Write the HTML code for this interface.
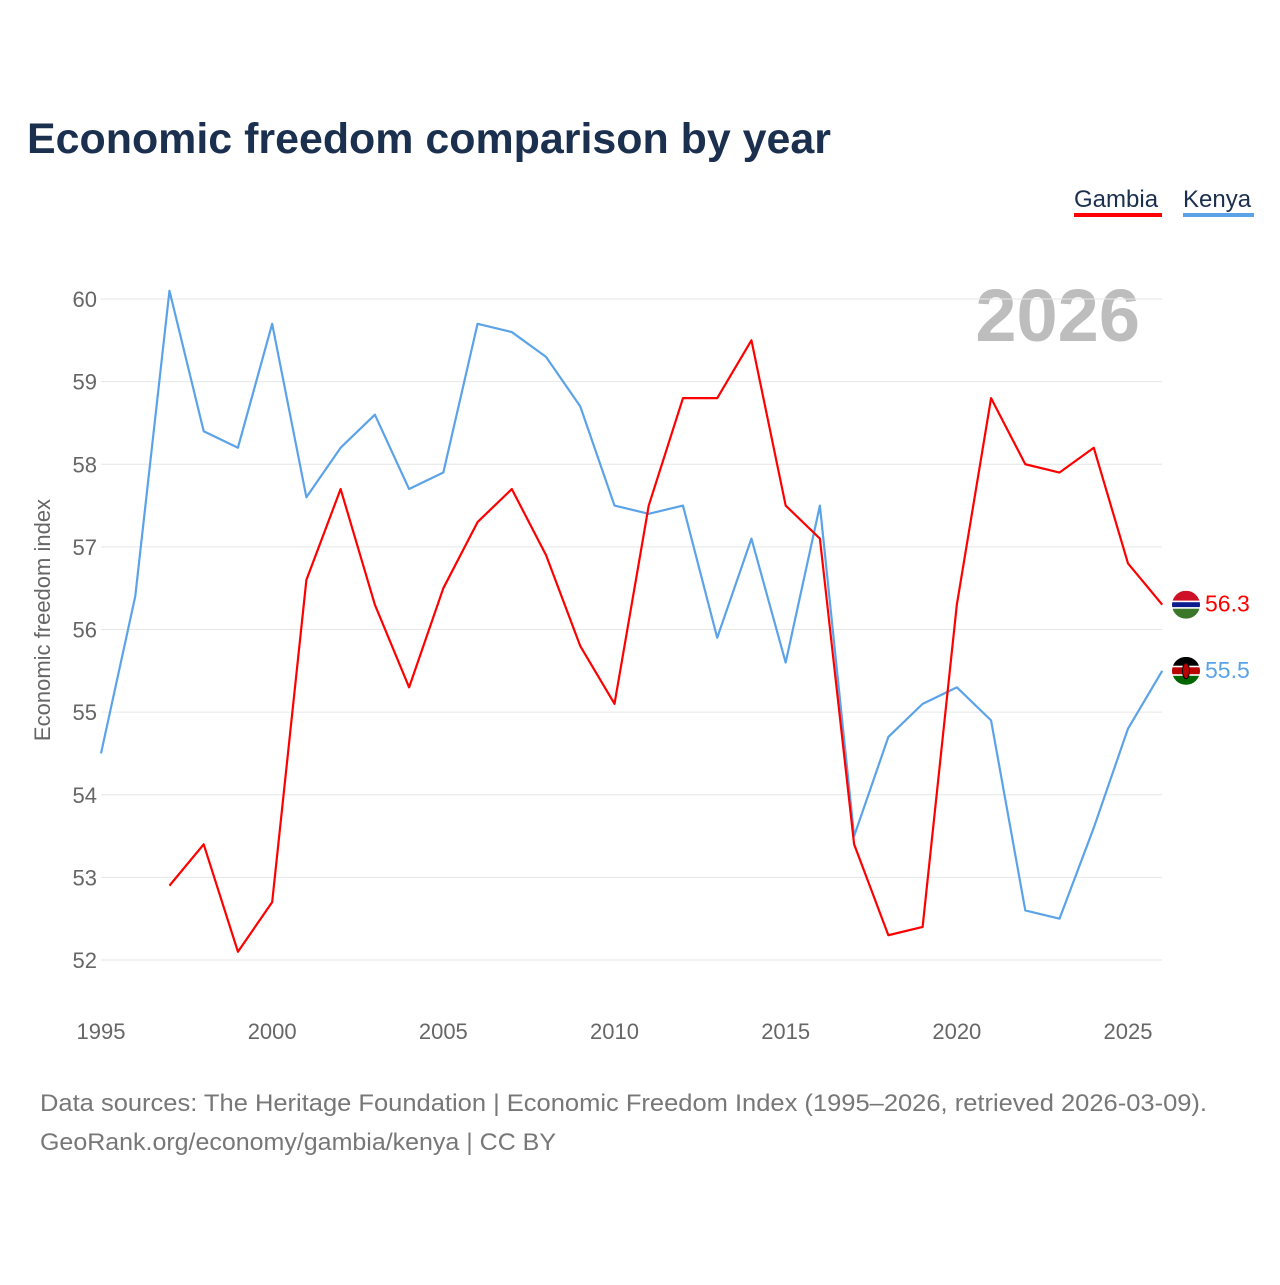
<!DOCTYPE html>
<html><head><meta charset="utf-8">
<style>
body{margin:0;background:#fff;font-family:"Liberation Sans",sans-serif;}
svg text{font-family:"Liberation Sans",sans-serif;}
</style></head>
<body>
<svg id="chart" width="1280" height="1280" viewBox="0 0 1280 1280" xmlns="http://www.w3.org/2000/svg">
<rect width="1280" height="1280" fill="#fff"/>
<text x="27" y="153" font-size="43" font-weight="bold" fill="#1b2f4e" textLength="804" lengthAdjust="spacingAndGlyphs">Economic freedom comparison by year</text>
<g>
<text x="1074" y="207" font-size="24" fill="#1b2f4e">Gambia</text>
<rect x="1074" y="213" width="88" height="4" fill="#ff0000"/>
</g>
<g>
<text x="1183" y="207" font-size="24" fill="#1b2f4e">Kenya</text>
<rect x="1183" y="213" width="71" height="4" fill="#5ba3e8"/>
</g>
<text x="1140" y="341" font-size="74" font-weight="bold" fill="#bdbdbd" text-anchor="end">2026</text>
<text transform="translate(50,620) rotate(-90)" font-size="22" fill="#666" text-anchor="middle">Economic freedom index</text>
<g id="grid"></g><g id="yticks"></g><g id="xticks"></g><g id="lines"></g><g id="ends"></g>
<text x="40" y="1111" font-size="24" fill="#777" textLength="1167" lengthAdjust="spacingAndGlyphs">Data sources: The Heritage Foundation | Economic Freedom Index (1995–2026, retrieved 2026-03-09).</text>
<text x="40" y="1150" font-size="24" fill="#777" textLength="516" lengthAdjust="spacingAndGlyphs">GeoRank.org/economy/gambia/kenya | CC BY</text>
</svg>
<script>
const years=[1995,1996,1997,1998,1999,2000,2001,2002,2003,2004,2005,2006,2007,2008,2009,2010,2011,2012,2013,2014,2015,2016,2017,2018,2019,2020,2021,2022,2023,2024,2025,2026];
const kenya=[54.5,56.4,60.1,58.4,58.2,59.7,57.6,58.2,58.6,57.7,57.9,59.7,59.6,59.3,58.7,57.5,57.4,57.5,55.9,57.1,55.6,57.5,53.5,54.7,55.1,55.3,54.9,52.6,52.5,53.6,54.8,55.5];
const gambia=[null,null,52.9,53.4,52.1,52.7,56.6,57.7,56.3,55.3,56.5,57.3,57.7,56.9,55.8,55.1,57.5,58.8,58.8,59.5,57.5,57.1,53.4,52.3,52.4,56.3,58.8,58.0,57.9,58.2,56.8,56.3];
const yTicks=[52,53,54,55,56,57,58,59,60];
const xTicks=[1995,2000,2005,2010,2015,2020,2025];
const NS="http://www.w3.org/2000/svg";
const x=v=>101+(v-1995)*(1128-101)/30;
const y=v=>960-(v-52)*(960-299)/8;
function mk(tag,attrs,parent){const e=document.createElementNS(NS,tag);for(const k in attrs)e.setAttribute(k,attrs[k]);document.getElementById(parent).appendChild(e);return e;}
yTicks.forEach(t=>{
 const l=mk('line',{x1:101,x2:1162,y1:y(t),y2:y(t),stroke:'#e6e6e6','stroke-width':1},'grid');
 
 
 const tx=mk('text',{x:97,y:y(t)+8,'font-size':22,fill:'#666','text-anchor':'end'},'yticks');
 tx.textContent=t;
 
 
});
xTicks.forEach(t=>{
 const tx=mk('text',{x:x(t),y:1039,'font-size':22,fill:'#666','text-anchor':'middle'},'xticks');
 tx.textContent=t;
 
 
});
function line(vals,color,name){
 let d='';let pen=false;
 vals.forEach((v,i)=>{if(v==null){pen=false;return;}d+=(pen?'L':'M')+x(years[i])+','+y(v);pen=true;});
 const p=mk('path',{d:d,fill:'none',stroke:color,'stroke-width':2.2,'stroke-linejoin':'round'},'lines');
 
 
}
line(kenya,'#5ba3e8','kenya-line');
line(gambia,'#ff0000','gambia-line');
function endMark(vals,color,name,flag){
 const v=vals[vals.length-1],cy=y(v),cx=1186;
 const g=mk('g',{},'ends');
 
 
 const defsId='clip-'+name;
 const cp=document.createElementNS(NS,'clipPath');cp.setAttribute('id',defsId);
 const cc=document.createElementNS(NS,'circle');cc.setAttribute('cx',cx);cc.setAttribute('cy',cy);cc.setAttribute('r',14);cp.appendChild(cc);g.appendChild(cp);
 const fg=document.createElementNS(NS,'g');fg.setAttribute('clip-path','url(#'+defsId+')');g.appendChild(fg);
 const bands=flag==='gm'?[['#ce1126',0,10],['#fff',10,1.5],['#0c1c8c',11.5,5],['#fff',16.5,1.5],['#3a7728',18,10]]:[['#000',0,9],['#fff',9,1.5],['#bb0000',10.5,7],['#fff',17.5,1.5],['#006600',19,9]];
 bands.forEach(b=>{const r=document.createElementNS(NS,'rect');r.setAttribute('x',cx-14);r.setAttribute('y',cy-14+b[1]);r.setAttribute('width',28);r.setAttribute('height',b[2]);r.setAttribute('fill',b[0]);fg.appendChild(r);});
 if(flag==='ke'){const e=document.createElementNS(NS,'ellipse');e.setAttribute('cx',cx);e.setAttribute('cy',cy);e.setAttribute('rx',3.5);e.setAttribute('ry',8);e.setAttribute('fill','#bb0000');e.setAttribute('stroke','#000');e.setAttribute('stroke-width',1);fg.appendChild(e);}
 const t=document.createElementNS(NS,'text');t.setAttribute('x',1205);t.setAttribute('y',cy+7);t.setAttribute('font-size',23);t.setAttribute('fill',color);t.textContent=v.toFixed(1);g.appendChild(t);
}
endMark(gambia,'#ff0000','gambia','gm');
endMark(kenya,'#5ba3e8','kenya','ke');
</script>
</body></html>
